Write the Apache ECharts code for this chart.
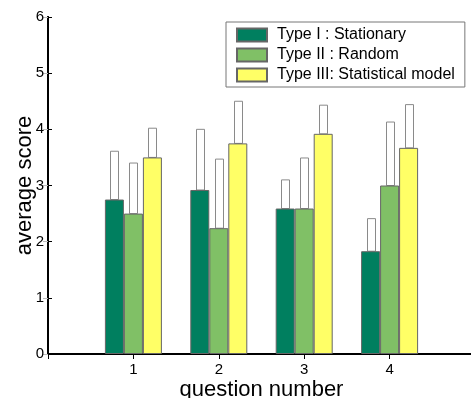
<!DOCTYPE html>
<html>
<head>
<meta charset="utf-8">
<script src="https://cdn.jsdelivr.net/npm/echarts@6/dist/echarts.min.js"></script>
<style>
  html, body { margin: 0; padding: 0; background: #fff; }
  #container { width: 471px; height: 398px; }
</style>
</head>
<body>
<div id="container"></div>
<script>
// question numbers on the x axis
const questions = [1, 2, 3, 4];
const typeNames = ['Type I : Stationary', 'Type II : Random', 'Type III: Statistical model'];
// average scores
const typeIMean = [2.75, 2.92, 2.59, 1.83];
const typeIIMean = [2.50, 2.24, 2.59, 3.00];
const typeIIIMean = [3.50, 3.75, 3.92, 3.67];
// spread drawn as the open box on top of each bar
const typeISd = [0.86, 1.08, 0.51, 0.58];
const typeIISd = [0.90, 1.23, 0.90, 1.13];
const typeIIISd = [0.52, 0.75, 0.51, 0.77];
const yTicks = [0, 1, 2, 3, 4, 5, 6];

const colorList = ['#007f5f', '#80c066', '#ffff66'];
const BAR_W = 19;
const BOX_W = 8;
const FONT = "'Liberation Sans', Arial, sans-serif";

const means = [typeIMean, typeIIMean, typeIIIMean];
const sds = [typeISd, typeIISd, typeIIISd];

let myChart = echarts.init(document.getElementById('container'), null, { renderer: 'canvas' });

function boxRender(slot) {
  return function (params, api) {
    const base = api.coord([api.value(0), api.value(1)]);
    const top = api.coord([api.value(0), api.value(2)]);
    const cx = base[0] + (slot - 1) * BAR_W;
    return {
      type: 'rect',
      shape: { x: Math.round(cx - BOX_W / 2) + 0.5, y: top[1], width: BOX_W, height: base[1] - top[1] },
      style: { fill: '#fff', stroke: '#8a8a8a', lineWidth: 1 }
    };
  };
}

const barSeries = typeNames.map((name, k) => ({
  name,
  type: 'bar',
  barWidth: BAR_W,
  barGap: '0%',
  z: 3,
  itemStyle: { color: colorList[k], borderColor: '#666', borderWidth: 1 },
  data: questions.map((q, i) => [q, means[k][i]])
}));

const boxSeries = typeNames.map((name, k) => ({
  name: name + ' sd',
  type: 'custom',
  z: 2,
  renderItem: boxRender(k),
  encode: { x: 0, y: [1, 2] },
  data: questions.map((q, i) => [q, means[k][i], means[k][i] + sds[k][i]])
}));

let option = {
  animation: false,
  textStyle: { fontFamily: FONT },
  grid: { left: 48, top: 17, width: 427, bottom: 44, containLabel: false, outerBoundsMode: 'none' },
  legend: {
    data: typeNames,
    orient: 'vertical',
    left: 226,
    top: 22,
    padding: [5, 10, 4, 10],
    itemWidth: 30,
    itemHeight: 13,
    itemGap: 4,
    icon: 'rect',
    backgroundColor: '#fff',
    borderColor: '#777',
    borderWidth: 1,
    selectedMode: false,
    textStyle: { fontSize: 16, color: '#000', fontFamily: FONT, padding: [0, 0, 0, 5] }
  },
  xAxis: [
    {
      type: 'value',
      min: 0,
      max: 5,
      interval: 1,
      name: 'question number',
      nameLocation: 'middle',
      nameGap: 25,
      nameMoveOverlap: false,
      nameTextStyle: { fontSize: 22, color: '#000', fontFamily: FONT, verticalAlign: 'top' },
      axisLine: { lineStyle: { color: '#000', width: 2 } },
      axisTick: { show: false },
      splitLine: { show: false },
      axisLabel: {
        fontSize: 15,
        color: '#000',
        margin: 8,
        formatter: v => (questions.indexOf(v) >= 0 ? String(v) : '')
      }
    },
    {
      type: 'value',
      position: 'top',
      min: 0,
      max: 5,
      interval: 1,
      axisLine: { show: true, lineStyle: { color: '#000', width: 2 } },
      axisTick: { show: true, inside: true, length: 5, lineStyle: { color: '#000' } },
      axisLabel: { show: false },
      splitLine: { show: false }
    }
  ],
  yAxis: [
    {
      type: 'value',
      min: yTicks[0],
      max: yTicks[yTicks.length - 1],
      interval: 1,
      name: 'average score',
      nameLocation: 'middle',
      nameGap: 12,
      nameMoveOverlap: false,
      nameTextStyle: { fontSize: 22, color: '#000', fontFamily: FONT },
      axisLine: { show: true, lineStyle: { color: '#000', width: 2 } },
      axisTick: { show: true, inside: true, length: 4, lineStyle: { color: '#000' } },
      splitLine: { show: false },
      axisLabel: { fontSize: 15, color: '#000', margin: 4 }
    },
    {
      type: 'value',
      position: 'right',
      min: yTicks[0],
      max: yTicks[yTicks.length - 1],
      interval: 1,
      axisLine: { show: true, lineStyle: { color: '#000', width: 2 } },
      axisTick: { show: true, inside: true, length: 5, lineStyle: { color: '#bbb' } },
      axisLabel: { show: false },
      splitLine: { show: false }
    }
  ],
  series: [...boxSeries, ...barSeries]
};
myChart.setOption(option);
</script>
</body>
</html>
